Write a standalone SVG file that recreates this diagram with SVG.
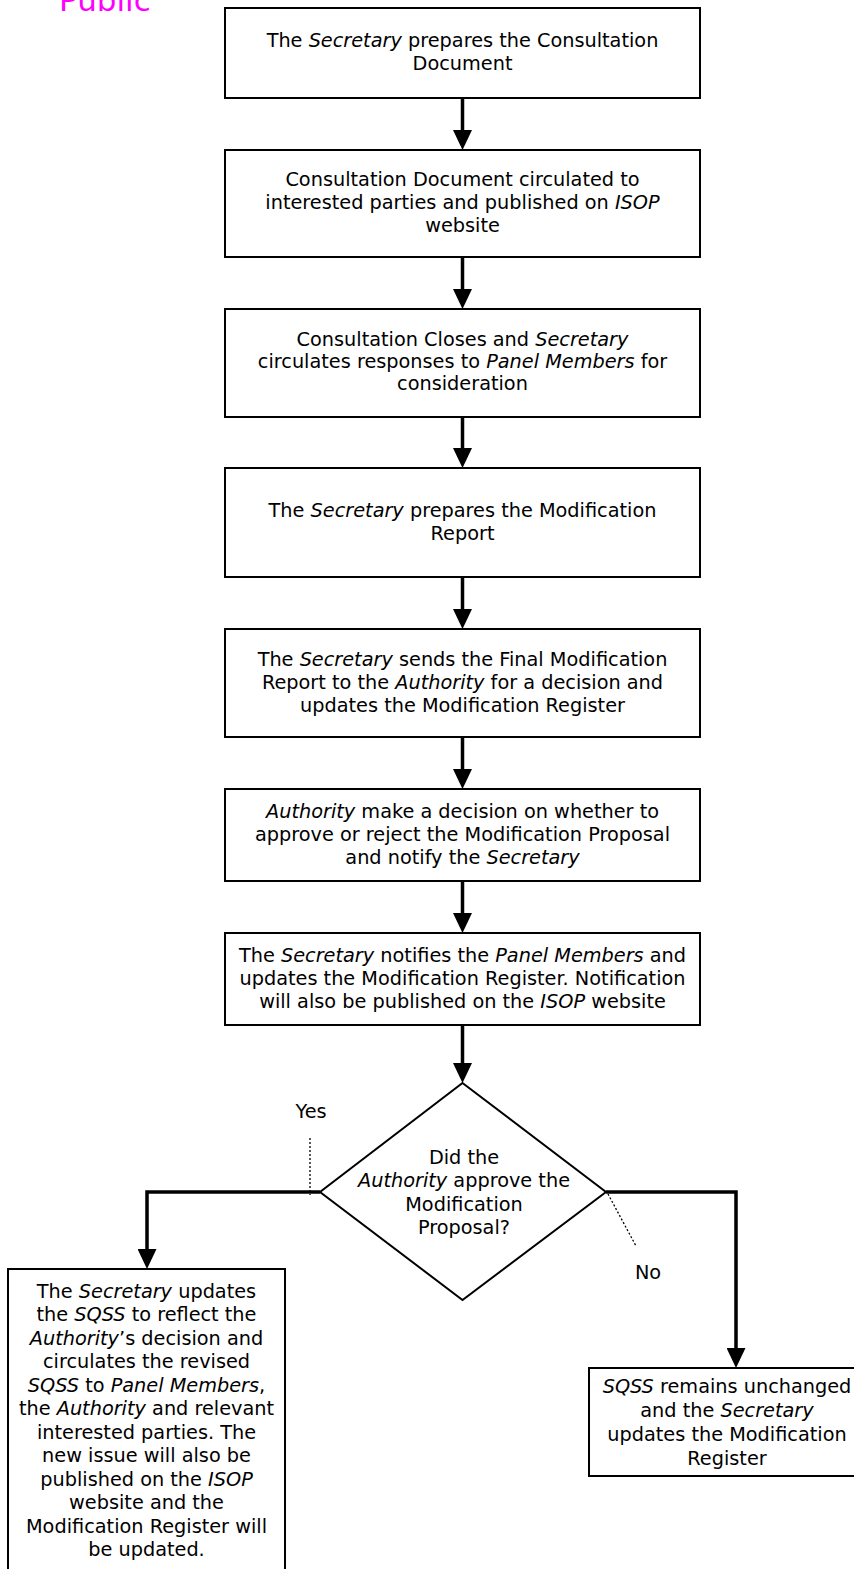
<svg xmlns="http://www.w3.org/2000/svg" width="854" height="1569" viewBox="0 0 854 1569">
<style>
.b{fill:#fff;stroke:#000;stroke-width:2}
.t{font-family:"DejaVu Sans",sans-serif;font-size:19.3px;text-anchor:middle;fill:#000}
.i{font-style:italic}
.c{fill:none;stroke:#000;stroke-width:3.5}
.d{fill:none;stroke:#000;stroke-width:1.3;stroke-dasharray:2 2}
</style>
<defs>
<marker id="ah" viewBox="0 0 20 19" markerWidth="20" markerHeight="19" refX="11" refY="9.5" orient="auto" markerUnits="userSpaceOnUse">
<path d="M0,0 L20,9.5 L0,19 z" fill="#000"/>
</marker>
</defs>
<rect width="854" height="1569" fill="#fff"/>
<text x="59" y="11" style="font-family:'DejaVu Sans',sans-serif;font-size:31px;fill:#ff00ff">Public</text>

<g id="connectors">
<path class="c" d="M462.5,98 V141" marker-end="url(#ah)"/>
<path class="c" d="M462.5,257 V300" marker-end="url(#ah)"/>
<path class="c" d="M462.5,417 V459" marker-end="url(#ah)"/>
<path class="c" d="M462.5,577 V620" marker-end="url(#ah)"/>
<path class="c" d="M462.5,737 V780" marker-end="url(#ah)"/>
<path class="c" d="M462.5,881 V924" marker-end="url(#ah)"/>
<path class="c" d="M462.5,1025 V1074" marker-end="url(#ah)"/>
<path class="c" d="M320,1192 H147 V1260" marker-end="url(#ah)"/>
<path class="c" d="M606,1192 H736 V1359" marker-end="url(#ah)"/>
<line class="d" x1="310" y1="1138" x2="310" y2="1195"/>
<line class="d" x1="608" y1="1194" x2="636" y2="1246"/>
<text class="t" x="311" y="1118">Yes</text>
<text class="t" x="648" y="1279">No</text>
</g>

<g id="n1">
<rect class="b" x="225" y="8" width="475" height="90"/>
<text class="t" x="462.5" y="47">The <tspan class="i">Secretary</tspan> prepares the Consultation</text>
<text class="t" x="462.5" y="70">Document</text>
</g>
<g id="n2">
<rect class="b" x="225" y="150" width="475" height="107"/>
<text class="t" x="462.5" y="186">Consultation Document circulated to</text>
<text class="t" x="462.5" y="209">interested parties and published on <tspan class="i">ISOP</tspan></text>
<text class="t" x="462.5" y="232">website</text>
</g>
<g id="n3">
<rect class="b" x="225" y="309" width="475" height="108"/>
<text class="t" x="462.5" y="346">Consultation Closes and <tspan class="i">Secretary</tspan></text>
<text class="t" x="462.5" y="368">circulates responses to <tspan class="i">Panel Members</tspan> for</text>
<text class="t" x="462.5" y="390">consideration</text>
</g>
<g id="n4">
<rect class="b" x="225" y="468" width="475" height="109"/>
<text class="t" x="462.5" y="517">The <tspan class="i">Secretary</tspan> prepares the Modification</text>
<text class="t" x="462.5" y="540">Report</text>
</g>
<g id="n5">
<rect class="b" x="225" y="629" width="475" height="108"/>
<text class="t" x="462.5" y="665.5">The <tspan class="i">Secretary</tspan> sends the Final Modification</text>
<text class="t" x="462.5" y="688.5">Report to the <tspan class="i">Authority</tspan> for a decision and</text>
<text class="t" x="462.5" y="711.5">updates the Modification Register</text>
</g>
<g id="n6">
<rect class="b" x="225" y="789" width="475" height="92"/>
<text class="t" x="462.5" y="817.5"><tspan class="i">Authority</tspan> make a decision on whether to</text>
<text class="t" x="462.5" y="840.5">approve or reject the Modification Proposal</text>
<text class="t" x="462.5" y="863.5">and notify the <tspan class="i">Secretary</tspan></text>
</g>
<g id="n7">
<rect class="b" x="225" y="933" width="475" height="92"/>
<text class="t" x="462.5" y="961.5">The <tspan class="i">Secretary</tspan> notifies the <tspan class="i">Panel Members</tspan> and</text>
<text class="t" x="462.5" y="984.5">updates the Modification Register. Notification</text>
<text class="t" x="462.5" y="1007.5">will also be published on the <tspan class="i">ISOP</tspan> website</text>
</g>
<g id="decision">
<polygon class="b" points="462.5,1083 606,1192 462.5,1300 320,1192"/>
<text class="t" x="464" y="1163.5">Did the</text>
<text class="t" x="464" y="1187"><tspan class="i">Authority</tspan> approve the</text>
<text class="t" x="464" y="1210.5">Modification</text>
<text class="t" x="464" y="1234">Proposal?</text>
</g>
<g id="yes-box">
<rect class="b" x="8" y="1269" width="277" height="320"/>
<text class="t" x="146.5" y="1297.5">The <tspan class="i">Secretary</tspan> updates</text>
<text class="t" x="146.5" y="1321">the <tspan class="i">SQSS</tspan> to reflect the</text>
<text class="t" x="146.5" y="1344.5"><tspan class="i">Authority</tspan>’s decision and</text>
<text class="t" x="146.5" y="1368">circulates the revised</text>
<text class="t" x="146.5" y="1391.5"><tspan class="i">SQSS</tspan> to <tspan class="i">Panel Members</tspan>,</text>
<text class="t" x="146.5" y="1415">the <tspan class="i">Authority</tspan> and relevant</text>
<text class="t" x="146.5" y="1438.5">interested parties. The</text>
<text class="t" x="146.5" y="1462">new issue will also be</text>
<text class="t" x="146.5" y="1485.5">published on the <tspan class="i">ISOP</tspan></text>
<text class="t" x="146.5" y="1509">website and the</text>
<text class="t" x="146.5" y="1532.5">Modification Register will</text>
<text class="t" x="146.5" y="1556">be updated.</text>
</g>
<g id="no-box">
<rect class="b" x="589" y="1368" width="276" height="108"/>
<text class="t" x="727" y="1393"><tspan class="i">SQSS</tspan> remains unchanged</text>
<text class="t" x="727" y="1417">and the <tspan class="i">Secretary</tspan></text>
<text class="t" x="727" y="1441">updates the Modification</text>
<text class="t" x="727" y="1465">Register</text>
</g>
</svg>
